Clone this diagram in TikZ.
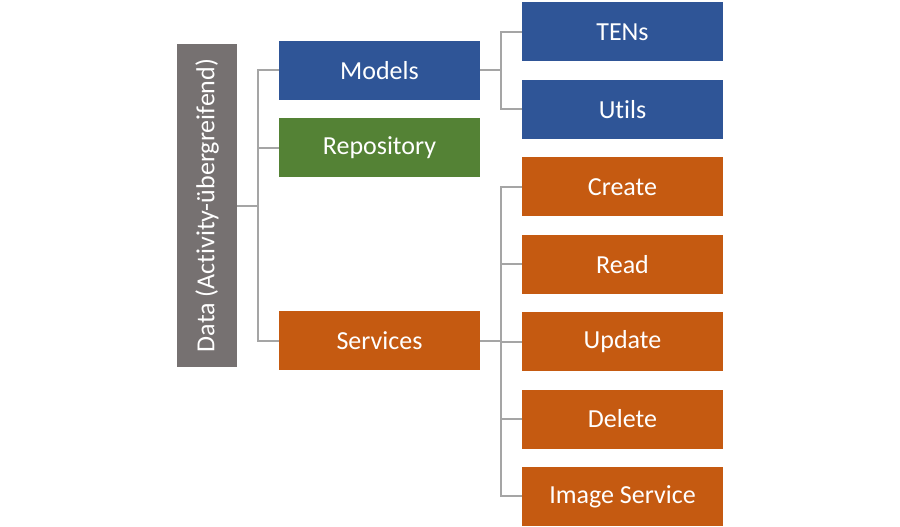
\documentclass[tikz,border=0pt]{standalone}
\usepackage{fontspec}
\setmainfont[RawFeature={-liga;-dlig}]{Carlito}
\usetikzlibrary{positioning, calc}

\definecolor{modelblue}{HTML}{2F5597}
\definecolor{repogreen}{HTML}{548235}
\definecolor{svcorange}{HTML}{C55A11}
\definecolor{datagray}{HTML}{767171}
\definecolor{conngray}{HTML}{A5A5A5}

\tikzset{
  itembox/.style={rectangle, minimum width=201pt, minimum height=59pt, inner sep=0pt,
    text=white, font=\fontsize{26}{30}\selectfont},
  databox/.style={rectangle, fill=datagray, rotate=90, minimum width=323pt, minimum height=60pt,
    inner sep=0pt, text=white, font=\fontsize{26}{30}\selectfont},
  conn/.style={draw=conngray, line width=2pt}
}

\begin{document}
\begin{tikzpicture}[x=1pt, y=-1pt, node distance=18pt]
  \useasboundingbox (0,0) rectangle (900,527);
  % root
  \node[databox] (data) at (207,205.5) {Data (Activity-übergreifend)};
  % second level
  \node[itembox, fill=modelblue] (models) at (379.5,70.5) {Models};
  \node[itembox, fill=repogreen, below=of models] (repo) {Repository};
  \node[itembox, fill=svcorange] (services) at (379.5,340.5) {Services};
  % third level
  \node[itembox, fill=modelblue] (tens) at (622.5,32) {TENs};
  \node[itembox, fill=modelblue, below=of tens] (utils) {Utils};
  \node[itembox, fill=svcorange, below=of utils] (create) {Create};
  \node[itembox, fill=svcorange, below=of create] (read) {Read};
  \node[itembox, fill=svcorange, below=of read] (update) {Update};
  \node[itembox, fill=svcorange, below=of update] (delete) {Delete};
  \node[itembox, fill=svcorange, below=of delete] (imgsvc) {Image Service};
  % connectors
  \foreach \child in {models, repo, services}
    \draw[conn] (data.south) -| ([xshift=-21pt]\child.west) -- (\child.west);
  \foreach \child in {tens, utils}
    \draw[conn] (models.east) -| ([xshift=-21pt]\child.west) -- (\child.west);
  \foreach \child in {create, read, update, delete, imgsvc}
    \draw[conn] (services.east) -| ([xshift=-21pt]\child.west) -- (\child.west);
\end{tikzpicture}
\end{document}
